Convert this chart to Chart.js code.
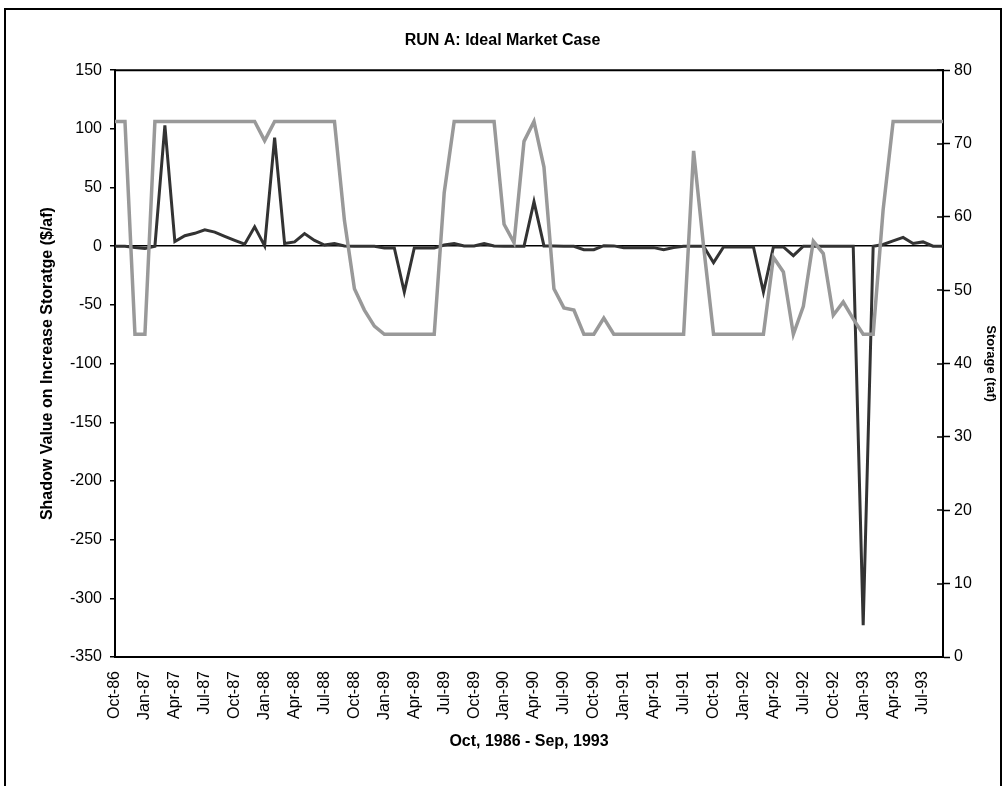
<!DOCTYPE html>
<html>
<head>
<meta charset="utf-8">
<script src="https://cdn.jsdelivr.net/npm/chart.js@4.4.1/dist/chart.umd.min.js"></script>
<style>
  html, body { margin: 0; padding: 0; background: #fff; overflow: hidden; }
  #wrap { position: absolute; left: 0; top: 0; width: 1005px; height: 786px; }
  #frame { position: absolute; left: 4px; top: 8px; width: 994px; height: 800px; border: 2px solid #000; pointer-events: none; }
</style>
</head>
<body>
<div id="wrap"><canvas id="chart" width="1005" height="786"></canvas></div>
<div id="frame"></div>
<script>
// monthly, Oct-86 .. Sep-93
const months = [
  'Oct-86','Nov-86','Dec-86','Jan-87','Feb-87','Mar-87','Apr-87','May-87','Jun-87','Jul-87','Aug-87','Sep-87',
  'Oct-87','Nov-87','Dec-87','Jan-88','Feb-88','Mar-88','Apr-88','May-88','Jun-88','Jul-88','Aug-88','Sep-88',
  'Oct-88','Nov-88','Dec-88','Jan-89','Feb-89','Mar-89','Apr-89','May-89','Jun-89','Jul-89','Aug-89','Sep-89',
  'Oct-89','Nov-89','Dec-89','Jan-90','Feb-90','Mar-90','Apr-90','May-90','Jun-90','Jul-90','Aug-90','Sep-90',
  'Oct-90','Nov-90','Dec-90','Jan-91','Feb-91','Mar-91','Apr-91','May-91','Jun-91','Jul-91','Aug-91','Sep-91',
  'Oct-91','Nov-91','Dec-91','Jan-92','Feb-92','Mar-92','Apr-92','May-92','Jun-92','Jul-92','Aug-92','Sep-92',
  'Oct-92','Nov-92','Dec-92','Jan-93','Feb-93','Mar-93','Apr-93','May-93','Jun-93','Jul-93','Aug-93','Sep-93'
];

// shadow value on increase storage ($/af), left axis
const shadowValue = [
  0, 0, -1, -2, 0, 103, 4, 9, 11, 14, 12, 8.5,
  5, 1.7, 16.5, 0.3, 92.6, 2.3, 3.7, 10.8, 5, 1, 2.3, 0.3,
  0, 0, 0, -1.4, -1.4, -39, -1.4, -1.4, -1.4, 1, 2.3, 0.3,
  0.3, 2.3, 0.3, 0, 0, 0, 38, 0.3, 0.3, 0, 0, -3,
  -3, 0.5, 0.3, -1.2, -1.2, -1.2, -1.2, -3, -1.1, 0, 0, 0,
  -14, -0.6, -0.6, -0.6, -0.6, -39, -0.6, -0.6, -8, 0, 0, 0,
  0, 0, 0, -323, 0, 1.5, 4.5, 7.5, 2.3, 3.7, 0, 0
];

// storage (taf), right axis
const storage = [
  73, 73, 44, 44, 73, 73, 73, 73, 73, 73, 73, 73,
  73, 73, 73, 70.4, 73, 73, 73, 73, 73, 73, 73, 59.5,
  50.2, 47.3, 45.1, 44, 44, 44, 44, 44, 44, 63.3, 73, 73,
  73, 73, 73, 59, 56.5, 70.3, 73, 66.8, 50.2, 47.6, 47.3, 44,
  44, 46.2, 44, 44, 44, 44, 44, 44, 44, 44, 69, 56,
  44, 44, 44, 44, 44, 44, 54.5, 52.5, 44, 47.8, 56.7, 55,
  46.6, 48.4, 46.1, 44, 44, 61, 73, 73, 73, 73, 73, 73
];

const leftTicks = { min: -350, max: 150, step: 50 };
const rightTicks = { min: 0, max: 80, step: 10 };

const FONT = 'Liberation Sans, Arial, sans-serif';
Chart.defaults.color = '#000';
Chart.defaults.font.family = FONT;

// top edge of the plot box + inner half of the cross ticks on the right axis
const plotFrame = {
  id: 'plotFrame',
  afterDraw(chart) {
    const { ctx, chartArea } = chart;
    const y1 = chart.scales.y1;
    ctx.save();
    ctx.strokeStyle = '#000';
    ctx.lineWidth = 2;
    ctx.beginPath();
    ctx.moveTo(chartArea.left - 1, chartArea.top);
    ctx.lineTo(chartArea.right + 1, chartArea.top);
    ctx.stroke();
    ctx.lineWidth = 1.5;
    y1.ticks.forEach(t => {
      const py = Math.round(y1.getPixelForValue(t.value));
      ctx.beginPath();
      ctx.moveTo(chartArea.right - 6, py);
      ctx.lineTo(chartArea.right, py);
      ctx.stroke();
    });
    ctx.restore();
  }
};

new Chart(document.getElementById('chart').getContext('2d'), {
  type: 'line',
  data: {
    labels: months,
    datasets: [{
      label: 'Storage',
      data: storage,
      yAxisID: 'y1',
      borderColor: '#999999',
      borderWidth: 3.5,
      pointRadius: 0,
      tension: 0,
      order: 0
    }, {
      label: 'Shadow Value',
      data: shadowValue,
      yAxisID: 'y',
      borderColor: '#333333',
      borderWidth: 3,
      pointRadius: 0,
      tension: 0,
      order: 1
    }]
  },
  options: {
    responsive: false,
    animation: false,
    layout: { padding: 0 },
    plugins: {
      legend: { display: false },
      tooltip: { enabled: false },
      title: {
        display: true,
        text: 'RUN A: Ideal Market Case',
        font: { size: 16, weight: 'bold' },
        padding: { top: 31, bottom: 20 }
      }
    },
    scales: {
      x: {
        offset: false,
        grid: { display: false, drawTicks: false },
        border: { display: true, color: '#000', width: 2 },
        ticks: {
          autoSkip: false,
          maxRotation: 90,
          minRotation: 90,
          padding: 14,
          font: { size: 16 },
          callback: function (val, i) { return i % 3 === 0 ? months[i] : ''; }
        },
        title: {
          display: true,
          text: 'Oct, 1986 - Sep, 1993',
          font: { size: 16, weight: 'bold' },
          padding: { top: 0, bottom: 35 }
        },
        afterFit: s => { s.height = 129; }
      },
      y: {
        position: 'left',
        min: leftTicks.min,
        max: leftTicks.max,
        ticks: { stepSize: leftTicks.step, padding: 8, font: { size: 16 } },
        grid: {
          color: c => (c.tick && c.tick.value === 0 ? '#000' : 'rgba(0,0,0,0)'),
          lineWidth: 1.5,
          tickColor: '#000',
          tickLength: 5,
          tickWidth: 1.5
        },
        border: { display: true, color: '#000', width: 2 },
        title: {
          display: true,
          text: 'Shadow Value on Increase Storatge ($/af)',
          font: { size: 16, weight: 'bold' },
          padding: { top: 38, bottom: 0 }
        },
        afterFit: s => { s.width = 115; }
      },
      y1: {
        position: 'right',
        min: rightTicks.min,
        max: rightTicks.max,
        ticks: { stepSize: rightTicks.step, padding: 4, font: { size: 16 } },
        grid: {
          drawOnChartArea: false,
          tickColor: '#000',
          tickLength: 7,
          tickWidth: 1.5
        },
        border: { display: true, color: '#000', width: 2 },
        title: {
          display: true,
          text: 'Storage (taf)',
          font: { size: 13, weight: 'bold' },
          padding: { top: 7, bottom: 0 }
        },
        afterFit: s => { s.width = 62; }
      }
    }
  },
  plugins: [plotFrame]
});
</script>
</body>
</html>
